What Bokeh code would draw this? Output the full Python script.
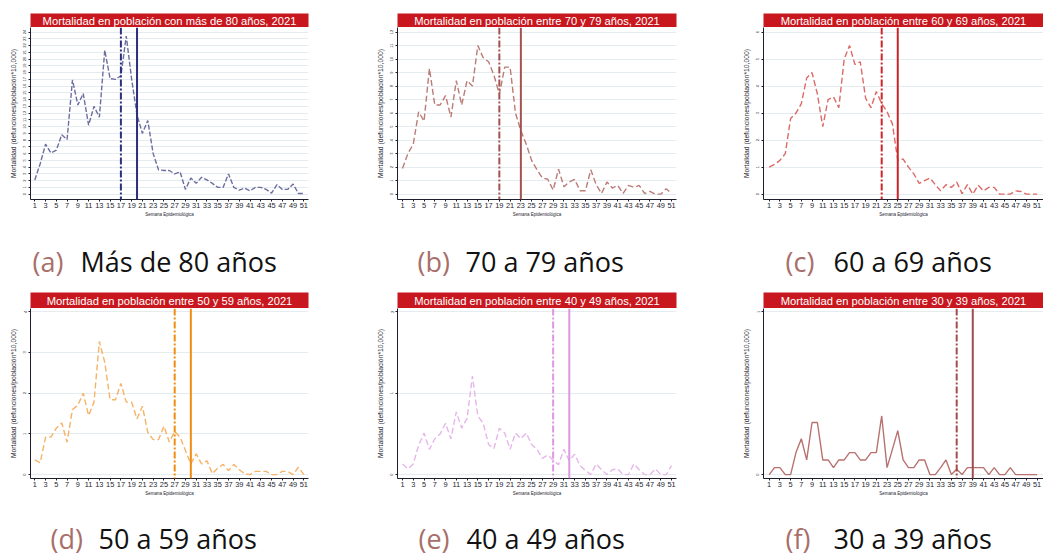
from bokeh.plotting import figure
from bokeh.layouts import column, row
from bokeh.models import Range1d, FixedTicker, Span
from bokeh.core.properties import value
from bokeh.embed import file_html
from bokeh.resources import INLINE

# ---------------------------------------------------------------- data
weeks = list(range(1, 52))

mort_80 = [2.1, 4.5, 7.4, 6.1, 6.5, 8.8, 8.1, 16.9, 13.2, 14.9,
           10.2, 13.0, 11.4, 21.3, 17.1, 17.0, 17.5, 23.4, 17.0, 11.7,
           9.0, 10.9, 6.0, 3.6, 3.5, 3.5, 3.0, 3.3, 0.7, 2.4,
           1.6, 2.5, 2.1, 1.6, 1.0, 1.0, 3.0, 1.0, 0.6, 0.9,
           0.5, 1.0, 1.0, 0.7, 0.15, 1.4, 0.7, 0.7, 1.5, 0.1, 0.1]
mort_70 = [1.9, 3.0, 3.7, 6.1, 5.4, 9.3, 6.6, 6.6, 7.3, 5.7,
           8.4, 6.6, 8.4, 8.0, 11.0, 10.1, 9.8, 8.8, 7.4, 9.4,
           9.4, 6.0, 4.7, 3.7, 2.5, 1.8, 1.2, 1.1, 0.3, 1.85,
           0.55, 0.9, 1.1, 0.25, 0.25, 1.8, 0.7, 0.05, 0.9, 0.45,
           0.65, 0.05, 0.65, 0.5, 0.65, 0.05, 0.2, 0.0, 0.0, 0.4, 0.05]
mort_60 = [1.0, 1.1, 1.25, 1.5, 2.8, 3.0, 3.35, 4.3, 4.5, 3.7,
           2.5, 3.5, 3.6, 3.2, 5.0, 5.5, 4.8, 4.9, 3.55, 3.2,
           3.8, 3.35, 3.05, 2.6, 1.25, 1.3, 1.0, 0.75, 0.4, 0.5,
           0.6, 0.35, 0.12, 0.35, 0.25, 0.45, 0.02, 0.35, 0.0, 0.33,
           0.12, 0.25, 0.25, 0.0, 0.0, 0.0, 0.12, 0.1, 0.0, 0.0, 0.0]
mort_50 = [0.36, 0.29, 0.92, 0.92, 1.14, 1.27, 0.8, 1.6, 1.7, 2.0,
           1.45, 1.78, 3.27, 2.76, 1.84, 1.84, 2.24, 1.78, 1.78, 1.37,
           1.68, 1.04, 0.86, 0.86, 1.19, 0.8, 1.06, 0.92, 0.59, 0.26,
           0.51, 0.26, 0.34, 0.02, 0.16, 0.25, 0.1, 0.25, 0.12, 0.02,
           0.0, 0.08, 0.08, 0.08, 0.0, 0.0, 0.08, 0.08, 0.0, 0.18, 0.0]
mort_40 = [0.13, 0.07, 0.13, 0.36, 0.51, 0.31, 0.44, 0.5, 0.63, 0.44,
           0.77, 0.57, 0.69, 1.21, 0.72, 0.63, 0.37, 0.32, 0.57, 0.51,
           0.31, 0.51, 0.44, 0.51, 0.37, 0.31, 0.2, 0.24, 0.18, 0.12,
           0.31, 0.17, 0.25, 0.11, 0.05, 0.0, 0.13, 0.06, 0.0, 0.06,
           0.07, 0.0, 0.0, 0.13, 0.06, 0.0, 0.0, 0.07, 0.0, 0.0, 0.11]
mort_30 = [0.0, 0.043, 0.043, 0.0, 0.0, 0.135, 0.22, 0.09, 0.32, 0.32,
           0.09, 0.09, 0.043, 0.09, 0.09, 0.135, 0.135, 0.09, 0.09, 0.135,
           0.135, 0.36, 0.043, 0.155, 0.27, 0.09, 0.043, 0.043, 0.09, 0.09,
           0.0, 0.0, 0.043, 0.09, 0.0, 0.033, 0.0, 0.043, 0.043, 0.043,
           0.043, 0.0, 0.043, 0.0, 0.0, 0.043, 0.0, 0.0, 0.0, 0.0, 0.0]

series = [mort_80, mort_70, mort_60, mort_50, mort_40, mort_30]

titles = [
    "Mortalidad en población con más de 80 años, 2021",
    "Mortalidad en población entre 70 y 79 años, 2021",
    "Mortalidad en población entre 60 y 69 años, 2021",
    "Mortalidad en población entre 50 y 59 años, 2021",
    "Mortalidad en población entre 40 y 49 años, 2021",
    "Mortalidad en población entre 30 y 39 años, 2021",
]
caption_tags = ["(a)", "(b)", "(c)", "(d)", "(e)", "(f)"]
caption_texts = ["Más de 80 años", "70 a 79 años", "60 a 69 años",
                 "50 a 59 años", "40 a 49 años", "30 a 39 años"]

# week markers drawn as vertical reference lines
start_weeks = [17, 19, 22, 27, 29, 36]
end_weeks = [20, 23, 25, 30, 32, 39]

# upper tick of each y axis
y_max = [24, 12, 6, 4, 2, 1]

x_ticks = list(range(1, 52, 2))

y_title = "Mortalidad (defunciones/población*10,000)"
x_title = "Semana Epidemiológica"

# ---------------------------------------------------------------- styles
marker_colors = ["#2c2e7e", "#a2524f", "#cc2428", "#f08c12", "#dc98e0", "#a44c4c"]
line_colors = ["#6c6ea0", "#bb7b76", "#dc6a66", "#f6b266", "#e6b6ea", "#b87270"]
line_dashes = ["5 2", "6 3", "6 3", "6 3", "6 3", "solid"]
BAR_RED = "#c8171e"
FONT = "Liberation Sans"
CAP_FONT = "Open Sans"

# column geometry: figure width, left border, right border, x range
COL_W = [350, 367, 326]
COL_L = [30, 47, 46]
COL_R = [42, 41, 0]
COL_X = [(0.2, 51.87), (0.07, 51.93), (-0.06, 52.2)]

# row geometry
ROW_BAR_TOP = [13, 0]
ROW_BAR_H = [14, 16]
ROW_PANEL_H = [196, 192]
ROW_PANEL_B = [24, 22]
ROW_PAD = [(0.033, 0.028), (0.024, 0.02)]


def title_bar(i):
    c, r = i % 3, i // 3
    f = figure(width=COL_W[c], height=ROW_BAR_TOP[r] + ROW_BAR_H[r],
               x_range=Range1d(0, 1), y_range=Range1d(0, 1),
               min_border_left=COL_L[c], min_border_right=COL_R[c],
               min_border_top=ROW_BAR_TOP[r], min_border_bottom=0,
               x_axis_location=None, y_axis_location=None,
               toolbar_location=None, output_backend="svg")
    f.grid.visible = False
    f.outline_line_color = None
    f.background_fill_color = BAR_RED
    f.border_fill_color = "white"
    f.text(x=[0.5], y=[0.5], text=[titles[i]], text_align="center",
           text_baseline="middle", text_color="white",
           text_font=value(FONT), text_font_size="11.2px")
    return f


def panel(i):
    c, r = i % 3, i // 3
    lo, hi = ROW_PAD[r]
    ym = y_max[i]
    f = figure(width=COL_W[c], height=ROW_PANEL_H[r],
               x_range=Range1d(*COL_X[c]),
               y_range=Range1d(-lo * ym, ym * (1 + hi)),
               min_border_left=COL_L[c], min_border_right=COL_R[c],
               min_border_top=0, min_border_bottom=ROW_PANEL_B[r],
               toolbar_location=None, output_backend="svg")
    f.outline_line_color = None
    f.background_fill_color = "white"

    f.line(weeks, series[i], line_color=line_colors[i], line_width=1.4,
           line_dash=line_dashes[i])
    f.add_layout(Span(location=start_weeks[i], dimension="height",
                      line_color=marker_colors[i], line_width=2,
                      line_dash="7 2 2 2"))
    f.add_layout(Span(location=end_weeks[i], dimension="height",
                      line_color=marker_colors[i], line_width=2))

    f.xgrid.visible = False
    f.ygrid.grid_line_color = "#e4ecef"
    f.ygrid.grid_line_width = 1

    f.xaxis.ticker = FixedTicker(ticks=x_ticks)
    f.yaxis.ticker = FixedTicker(ticks=list(range(0, ym + 1)))
    for ax in (f.xaxis, f.yaxis):
        ax.axis_line_color = "#1e1e2e"
        ax.major_tick_line_color = "#1e1e2e"
        ax.major_tick_out = 2
        ax.major_tick_in = 0
        ax.minor_tick_line_color = None
        ax.major_label_text_font = FONT
        ax.major_label_text_color = "#1e1e2e"
        ax.axis_label_text_font = FONT
        ax.axis_label_text_font_style = "normal"
        ax.axis_label_text_color = "#1e1e2e"
    f.xaxis.major_label_text_font_size = "7.4px"
    f.xaxis.major_label_standoff = 1
    f.xaxis.axis_label = x_title
    f.xaxis.axis_label_text_font_size = "4.5px"
    f.xaxis.axis_label_standoff = 1
    f.yaxis.major_label_orientation = "vertical"
    f.yaxis.major_label_text_font_size = "4px"
    f.yaxis.major_label_standoff = 2
    f.yaxis.axis_label = y_title
    f.yaxis.axis_label_text_font_size = "6.8px"
    f.yaxis.axis_label_standoff = 4
    return f


def caption_row(idx, height, y_mid, tag_x, text_x):
    f = figure(width=sum(COL_W), height=height,
               x_range=Range1d(0, sum(COL_W)), y_range=Range1d(0, height),
               min_border=0, x_axis_location=None, y_axis_location=None,
               toolbar_location=None, output_backend="svg")
    f.grid.visible = False
    f.outline_line_color = None
    f.text(x=tag_x, y=[y_mid] * len(idx), text=[caption_tags[k] for k in idx],
           text_align="left", text_baseline="middle", text_color="#a86e68",
           text_font=value(CAP_FONT), text_font_size="27px")
    f.text(x=text_x, y=[y_mid] * len(idx), text=[caption_texts[k] for k in idx],
           text_align="left", text_baseline="middle", text_color="#111111",
           text_font=value(CAP_FONT), text_font_size="27px")
    return f


cols_top = [column(title_bar(i), panel(i), spacing=0) for i in range(3)]
cols_bot = [column(title_bar(i), panel(i), spacing=0) for i in range(3, 6)]

cap_top = caption_row([0, 1, 2], 69, 31, [32, 417, 785], [80, 465, 833])
cap_bot = caption_row([3, 4, 5], 56, 18, [50, 418, 785], [98, 466, 833])

layout = column(row(*cols_top, spacing=0), cap_top,
                row(*cols_bot, spacing=0), cap_bot, spacing=0)

open("out.html", "w").write(file_html(layout, INLINE))
